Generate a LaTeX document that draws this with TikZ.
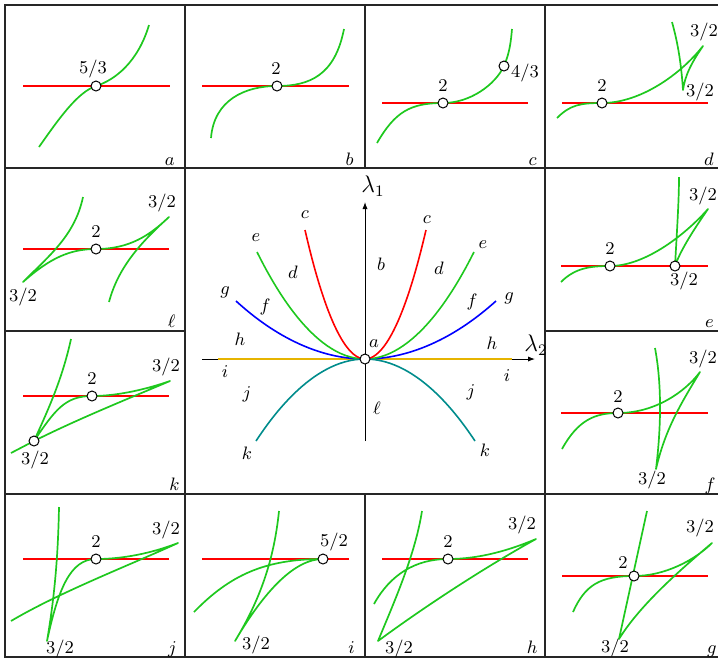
\documentclass[tikz,border=0pt]{standalone}
\usepackage{amsmath, amssymb}
\usepackage{tikz}
\usetikzlibrary{positioning,arrows.meta}

\definecolor{crvgreen}{RGB}{30,200,30}
\definecolor{tealc}{RGB}{0,140,140}
\definecolor{yelc}{RGB}{230,180,0}

\begin{document}
\begin{tikzpicture}[x=0.5pt, y=-0.5pt, >={Latex[length=3.5pt,width=2.6pt]},
  every node/.style={font=\fontsize{9}{10}\selectfont, inner sep=0pt},
  grid/.style={draw=black!85, line width=0.65pt},
  crv/.style={draw=crvgreen, line width=0.85pt, line join=round},
  hline/.style={draw=red, line width=0.8pt},
  pt/.style={circle, draw, fill=white, line width=0.5pt, minimum size=5pt},
  tag/.style={anchor=base east},
  lam/.style={font=\fontsize{12}{14}\selectfont}]
  \clip (0,0) rectangle (718,660);

  % grid
  \draw[grid] (5,5) rectangle (730,657);
  \draw[grid] (5,168) -- (730,168) (5,494) -- (730,494);
  \draw[grid] (5,331) -- (185,331) (545,331) -- (730,331);
  \draw[grid] (185,5) -- (185,657) (545,5) -- (545,657);
  \draw[grid] (365,5) -- (365,168) (365,494) -- (365,657);

  % a
  \coordinate (A) at (96,86);
  \draw[hline] (23,86) -- (170,86);
  \draw[crv] (39,147) .. controls (60,117) and (78,92) .. (A) .. controls (115,80) and (138,62) .. (149,25);
  % b
  \coordinate (B) at (277,86);
  \draw[hline] (202,86) -- (349,86);
  \draw[crv] (211,138) .. controls (214,100) and (245,86) .. (B) .. controls (310,86) and (335,75) .. (344,29);
  % c
  \coordinate (C1) at (443,103);
  \coordinate (C2) at (504,66);
  \draw[hline] (382,103) -- (528,103);
  \draw[crv] (377,143) .. controls (395,112) and (410,103) .. (C1) .. controls (470,103) and (495,85) .. (C2) .. controls (510,52) and (511,40) .. (512,29);
  % d
  \coordinate (D) at (602,103);
  \draw[hline] (562,103) -- (708,103);
  \draw[crv] (557,118) .. controls (570,105) and (580,103) .. (D) .. controls (640,103) and (680,75) .. (703,46) .. controls (692,62) and (685,75) .. (683,90) .. controls (681,60) and (677,40) .. (672,22);
  % l
  \coordinate (L) at (96,249);
  \draw[hline] (23,249) -- (169,249);
  \draw[crv] (83,197) .. controls (75,235) and (50,255) .. (23,282) .. controls (50,258) and (70,249) .. (L) .. controls (130,249) and (150,235) .. (169,217) .. controls (140,243) and (118,268) .. (109,302);
  % k
  \coordinate (K1) at (34,441);
  \coordinate (K2) at (92,396);
  \draw[hline] (23,396) -- (169,396);
  \draw[crv] (11,453) -- (K1) .. controls (80,418) and (130,398) .. (170,381) .. controls (150,388) and (120,396) .. (K2) .. controls (65,396) and (55,410) .. (K1) .. controls (48,410) and (62,380) .. (71,339);
  % e
  \coordinate (E1) at (610,266);
  \coordinate (E2) at (675,266);
  \draw[hline] (561,266) -- (708,266);
  \draw[crv] (561,282) .. controls (575,268) and (590,266) .. (E1) .. controls (645,266) and (685,235) .. (708,209) .. controls (690,235) and (680,252) .. (E2) .. controls (677,230) and (679,200) .. (679,177);
  % f
  \coordinate (F) at (618,413);
  \draw[hline] (561,413) -- (708,413);
  \draw[crv] (562,449) .. controls (578,420) and (595,413) .. (F) .. controls (655,413) and (685,392) .. (700,372) .. controls (680,405) and (665,430) .. (656,469) .. controls (662,420) and (661,380) .. (655,348);
  % j
  \coordinate (J) at (96,559);
  \draw[hline] (23,559) -- (169,559);
  \draw[crv] (59,507) .. controls (58,560) and (54,600) .. (47,641) .. controls (58,590) and (70,559) .. (J) .. controls (130,559) and (160,550) .. (178,543) .. controls (130,565) and (60,592) .. (11,621);
  % i
  \coordinate (I) at (323,559);
  \draw[hline] (202,559) -- (349,559);
  \draw[crv] (279,511) .. controls (274,560) and (260,600) .. (235,641) .. controls (265,590) and (295,559) .. (I) .. controls (265,559) and (230,575) .. (194,612);
  % h
  \coordinate (H) at (448,559);
  \draw[hline] (382,559) -- (528,559);
  \draw[crv] (374,604) .. controls (390,575) and (415,559) .. (H) .. controls (480,559) and (510,550) .. (536,539) .. controls (480,570) and (420,610) .. (378,641) .. controls (395,600) and (415,555) .. (422,511);
  % g
  \coordinate (G) at (634,576);
  \draw[hline] (562,576) -- (708,576);
  \draw[crv] (573,612) .. controls (585,585) and (600,576) .. (G) .. controls (665,576) and (695,560) .. (712,543) .. controls (680,570) and (640,605) .. (619,639) -- (647,511);

  % centre: bifurcation set
  \coordinate (O) at (365,359);
  \coordinate (ax1b) at (365,441);
  \coordinate (ax1t) at (365,202);
  \coordinate (ax2l) at (202,359);
  \coordinate (ax2r) at (535,359);
  \draw[->, line width=0.5pt] (ax1b) -- (ax1t);
  \draw[->, line width=0.5pt] (ax2l) -- (ax2r);
  \draw[yelc, line width=0.9pt] (218,359) -- (512,359);
  \draw[blue, line width=0.8pt] (O) parabola (496,301) (O) parabola (236,301);
  \draw[crvgreen, line width=0.8pt] (O) parabola (474,252) (O) parabola (257,252);
  \draw[red, line width=0.8pt] (O) parabola (426,230) (O) parabola (305,230);
  \draw[tealc, line width=0.8pt] (O) parabola (475,441) (O) parabola (256,441);
  \node[pt] (po) at (O) {};
  \node[lam] (lam1) at (373,186) {$\lambda_1$};
  \node[lam] (lam2) at (536,345) {$\lambda_2$};
  \node (rc1) at (305,215) {$c$};
  \node (rc2) at (427,220) {$c$};
  \node (re1) at (256,238) {$e$};
  \node (re2) at (483,245) {$e$};
  \node (rg1) at (225,292) {$g$};
  \node (rg2) at (509,298) {$g$};
  \node (rk1) at (247,453) {$k$};
  \node (rk2) at (485,450) {$k$};
  \node (rd1) at (293,272) {$d$};
  \node (rd2) at (439,268) {$d$};
  \node (rb) at (381,264) {$b$};
  \node (rf1) at (265,307) {$f$};
  \node (rf2) at (472,302) {$f$};
  \node (rh1) at (240,339) {$h$};
  \node (rh2) at (492,343) {$h$};
  \node (ri1) at (225,372) {$i$};
  \node (ri2) at (507,376) {$i$};
  \node (rj1) at (247,394) {$j$};
  \node (rj2) at (471,392) {$j$};
  \node (rl) at (377,408) {$\ell$};
  \node (ra) at (374,344) {$a$};

  % special points
  \node[pt] (pa) at (A) {};
  \node[pt] (pb) at (B) {};
  \node[pt] (pc1) at (C1) {};
  \node[pt] (pc2) at (C2) {};
  \node[pt] (pd) at (D) {};
  \node[pt] (pl) at (L) {};
  \node[pt] (pk1) at (K1) {};
  \node[pt] (pk2) at (K2) {};
  \node[pt] (pe1) at (E1) {};
  \node[pt] (pe2) at (E2) {};
  \node[pt] (pf) at (F) {};
  \node[pt] (pj) at (J) {};
  \node[pt] (pi) at (I) {};
  \node[pt] (ph) at (H) {};
  \node[pt] (pg) at (G) {};

  % exponents
  \node (xa) at (93,69) {$5/3$};
  \node (xb) at (276,69) {$2$};
  \node (xc1) at (443,86) {$2$};
  \node (xc2) at (525,73) {$4/3$};
  \node (xd1) at (602,86) {$2$};
  \node (xd2) at (704,32) {$3/2$};
  \node (xd3) at (700,92) {$3/2$};
  \node (xl1) at (96,232) {$2$};
  \node (xl2) at (23,297) {$3/2$};
  \node (xl3) at (162,203) {$3/2$};
  \node (xk1) at (92,379) {$2$};
  \node (xk2) at (35,460) {$3/2$};
  \node (xk3) at (166,367) {$3/2$};
  \node (xe1) at (610,249) {$2$};
  \node (xe2) at (684,281) {$3/2$};
  \node (xe3) at (703,196) {$3/2$};
  \node (xf1) at (618,397) {$2$};
  \node (xf2) at (703,359) {$3/2$};
  \node (xf3) at (652,480) {$3/2$};
  \node (xj1) at (96,542) {$2$};
  \node (xj2) at (166,530) {$3/2$};
  \node (xj3) at (60,649) {$3/2$};
  \node (xi1) at (334,542) {$5/2$};
  \node (xi2) at (256,645) {$3/2$};
  \node (xh1) at (448,542) {$2$};
  \node (xh2) at (522,525) {$3/2$};
  \node (xh3) at (399,649) {$3/2$};
  \node (xg1) at (623,563) {$2$};
  \node (xg2) at (700,528) {$3/2$};
  \node (xg3) at (615,648) {$3/2$};

  % panel tags
  \node[tag] (ta) at (175,165) {$a$};
  \node[tag] (tb) at (354,165) {$b$};
  \node[tag] (tc) at (537,165) {$c$};
  \node[tag] (td) at (714,165) {$d$};
  \node[tag] (tl) at (176,327) {$\ell$};
  \node[tag] (te) at (714,327) {$e$};
  \node[tag] (tk) at (180,490) {$k$};
  \node[tag] (tf) at (716,490) {$f$};
  \node[tag] (tj) at (177,653) {$j$};
  \node[tag] (ti) at (355,653) {$i$};
  \node[tag] (th) at (538,653) {$h$};
  \node[tag] (tg) at (717,653) {$g$};
\end{tikzpicture}
\end{document}
